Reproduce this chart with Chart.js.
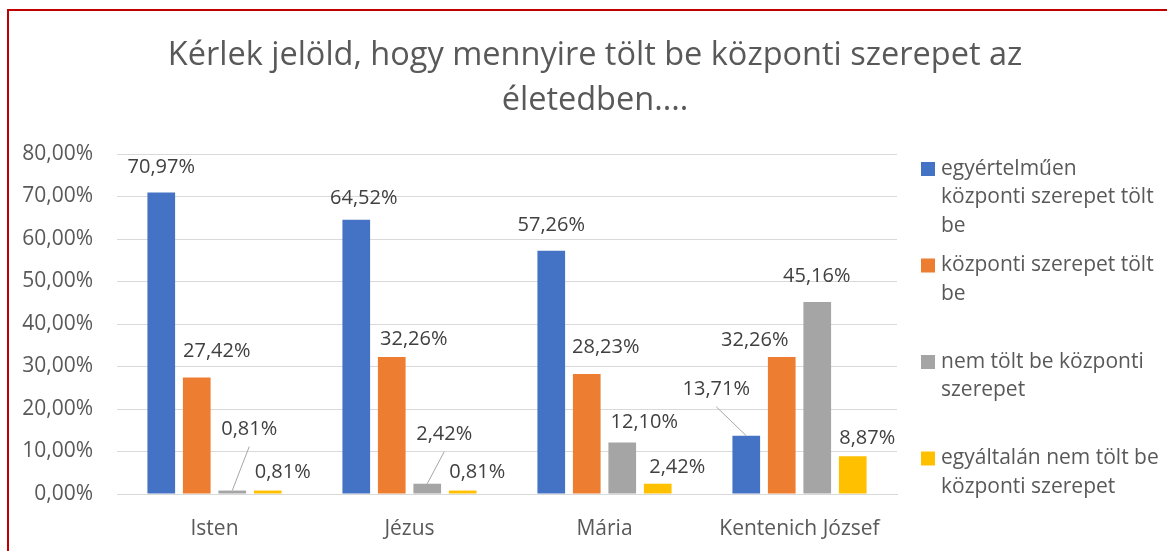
<!DOCTYPE html>
<html>
<head>
<meta charset="utf-8">
<script src="https://cdn.jsdelivr.net/npm/chart.js@4.4.1/dist/chart.umd.min.js"></script>
<style>
    html, body { margin: 0; padding: 0; overflow: hidden; background: #ffffff; }
    #chartBox {
        position: absolute; left: 7px; top: 9px;
        border-left: 2px solid #c00000; border-top: 2px solid #c00000;
        width: 1172px; height: 540px;
    }
</style>
</head>
<body>
<div id="chartBox">
    <canvas id="graphCanvas" width="1172" height="540"></canvas>
</div>
<script>
// data from the chart
let categories = ['Isten', 'Jézus', 'Mária', 'Kentenich József'];
let seriesNames = [
    'egyértelműen központi szerepet tölt be',
    'központi szerepet tölt be',
    'nem tölt be központi szerepet',
    'egyáltalán nem tölt be központi szerepet'
];
let legendLines = [
    ['egyértelműen', 'központi szerepet tölt', 'be'],
    ['központi szerepet tölt', 'be'],
    ['nem tölt be központi', 'szerepet'],
    ['egyáltalán nem tölt be', 'központi szerepet']
];
let clearlyCentral = [70.97, 64.52, 57.26, 13.71];
let central = [27.42, 32.26, 28.23, 32.26];
let notCentral = [0.81, 2.42, 12.10, 45.16];
let notAtAll = [0.81, 0.81, 2.42, 8.87];
let yTicks = [0, 10, 20, 30, 40, 50, 60, 70, 80];

let colors = ['#4472c4', '#ed7d31', '#a5a5a5', '#ffc000'];

// where each value label sits relative to the top of its bar [dx, dy, leader line]
let labelOffsets = [
    [[0, -25], [7.5, -21], [0, -25], [-30, -46, true]],
    [[20, -26], [22, -18], [19, -27], [-27, -17]],
    [[17, -61, true], [17, -49, true], [22, -20], [-0.5, -25.5]],
    [[15, -18], [14.5, -18], [19.5, -16], [14.5, -18]]
];

function pct(v) {
    return v.toFixed(2).replace('.', ',') + '%';
}

// value labels drawn on top of the bars
let barLabels = {
    id: 'barLabels',
    afterDatasetsDraw(chart) {
        let ctx = chart.ctx;
        ctx.save();
        ctx.font = '20px "Open Sans"';
        ctx.textAlign = 'center';
        ctx.textBaseline = 'middle';
        chart.data.datasets.forEach(function(ds, i) {
            let meta = chart.getDatasetMeta(i);
            meta.data.forEach(function(bar, j) {
                let off = labelOffsets[i][j];
                let lx = bar.x + off[0];
                let ly = bar.y + off[1];
                if (off[2]) {
                    ctx.strokeStyle = '#a6a6a6';
                    ctx.lineWidth = 1;
                    ctx.beginPath();
                    ctx.moveTo(lx, ly + 17);
                    ctx.lineTo(bar.x, bar.y);
                    ctx.stroke();
                }
                ctx.fillStyle = '#404040';
                ctx.fillText(pct(ds.data[j]), lx, ly);
            });
        });
        ctx.restore();
    }
};

// legend on the right with wrapped text
let sideLegend = {
    id: 'sideLegend',
    afterDraw(chart) {
        let ctx = chart.ctx;
        ctx.save();
        ctx.font = '21px "Open Sans"';
        ctx.textAlign = 'left';
        ctx.textBaseline = 'middle';
        let x = chart.chartArea.right + 24;
        let y = 158;
        legendLines.forEach(function(lines, i) {
            ctx.fillStyle = colors[i];
            ctx.fillRect(x, y - 7, 14, 14);
            ctx.fillStyle = '#595959';
            lines.forEach(function(t, k) {
                ctx.fillText(t, x + 20, y + k * 28.5);
            });
            y += 96.5;
        });
        ctx.restore();
    }
};

let chartData = {
    labels: categories,
    datasets: [clearlyCentral, central, notCentral, notAtAll].map(function(vals, i) {
        return {
            label: seriesNames[i],
            data: vals,
            backgroundColor: colors[i],
            borderWidth: 0,
            categoryPercentage: 0.728,
            barPercentage: 0.78
        };
    })
};

let chartOptions = {
    responsive: false,
    animation: false,
    layout: { padding: 0 },
    scales: {
        x: {
            grid: { display: false },
            border: { color: '#d9d9d9', width: 1 },
            ticks: { color: '#595959', font: { family: 'Open Sans', size: 21 }, padding: 14 },
            afterFit: function(s) { s.height = 57; }
        },
        y: {
            min: 0,
            max: 80,
            afterBuildTicks: function(s) { s.ticks = yTicks.map(function(v) { return { value: v }; }); },
            grid: { color: '#d9d9d9', lineWidth: 1, drawTicks: false },
            border: { display: false },
            ticks: {
                color: '#595959',
                font: { family: 'Open Sans', size: 21 },
                padding: 24,
                callback: function(v) { return pct(v); }
            },
            afterFit: function(s) { s.width = 108; }
        },
        // empty axis that keeps room for the legend
        legendRoom: {
            type: 'linear',
            position: 'right',
            grid: { display: false },
            border: { display: false },
            ticks: { display: false },
            afterFit: function(s) { s.width = 284; }
        }
    },
    plugins: {
        legend: { display: false },
        tooltip: { enabled: false },
        title: {
            display: true,
            text: ['Kérlek jelöld, hogy mennyire tölt be központi szerepet az', 'életedben....'],
            color: '#595959',
            font: { family: 'Open Sans', size: 32.5, weight: 'normal', lineHeight: '45px' },
            padding: { top: 22, bottom: 31 }
        }
    }
};

let graphCanvas = document.getElementById('graphCanvas').getContext('2d');
let barChart = new Chart(graphCanvas, {
    type: 'bar',
    data: chartData,
    options: chartOptions,
    plugins: [barLabels, sideLegend]
});
</script>
</body>
</html>
